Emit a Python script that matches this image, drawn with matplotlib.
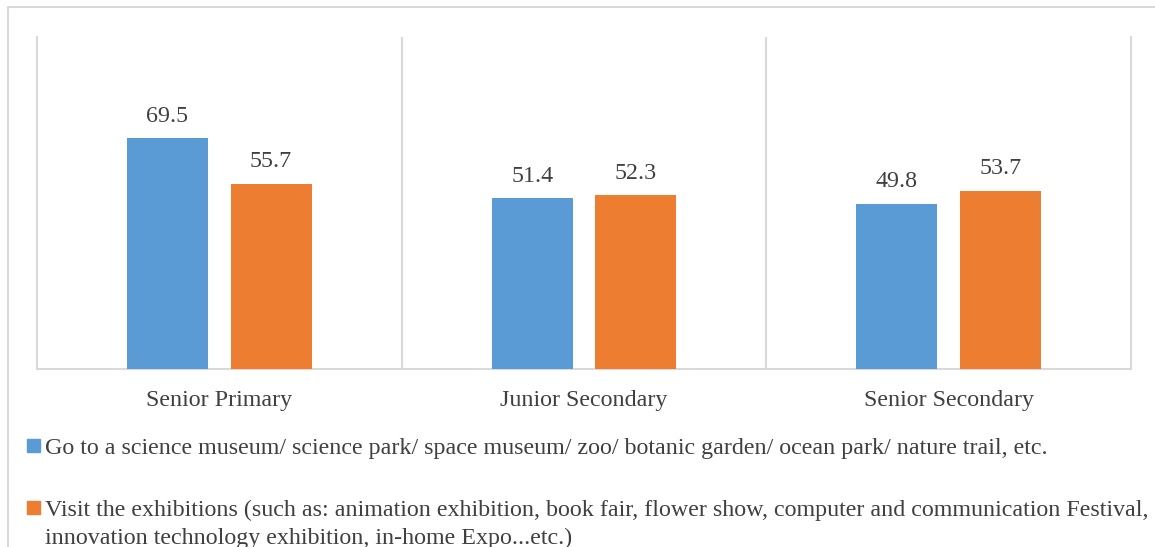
import numpy as np
import matplotlib.pyplot as plt
from matplotlib.patches import Rectangle
from matplotlib.lines import Line2D

# survey share (%) by school level
LEVELS = ['Senior Primary', 'Junior Secondary', 'Senior Secondary']
MUSEUM = [69.5, 51.4, 49.8]
EXHIBITION = [55.7, 52.3, 53.7]
LABELS = [
    'Go to a science museum/ science park/ space museum/ zoo/ botanic garden/ ocean park/ nature trail, etc.',
    'Visit the exhibitions (such as: animation exhibition, book fair, flower show, computer and communication Festival,\n'
    'innovation technology exhibition, in-home Expo...etc.)',
]
COLORS = ['#5B9BD5', '#ED7D31']

W, H = 1155, 547
plt.rcParams['font.family'] = ['Liberation Serif', 'DejaVu Serif']
TXT = '#404040'
GRID = '#D9D9D9'
FS = 17.3

fig = plt.figure(figsize=(W / 100, H / 100), dpi=100)
fig.patch.set_facecolor('white')

# outer chart frame: only top and left edges fall inside the canvas
fig.add_artist(Line2D([8 / W, 8 / W, 1.0], [0.0, 1 - 7 / H, 1 - 7 / H],
                      transform=fig.transFigure, color=GRID, linewidth=1.5))

ax = fig.add_axes([37 / W, 1 - 369 / H, (1131 - 37) / W, (369 - 37) / H])
xs = np.arange(len(LEVELS))
bw = 0.222
off = 0.142
for vals, dx, c in [(MUSEUM, -off, COLORS[0]), (EXHIBITION, off, COLORS[1])]:
    bars = ax.bar(xs + dx, vals, width=bw, color=c, zorder=3)
    for b, v in zip(bars, vals):
        ax.annotate(f'{v:.1f}', (b.get_x() + b.get_width() / 2, v), xytext=(0, 12),
                    textcoords='offset points', ha='center', va='baseline',
                    fontsize=FS, color=TXT)

ax.set_xlim(-0.5, len(LEVELS) - 0.5)
ax.set_ylim(0, 100)
ax.set_yticks([])
ax.set_xticks(xs)
ax.set_xticklabels(LEVELS, fontsize=FS, color=TXT)
ax.tick_params(axis='x', length=0, pad=15)
for x in xs[:-1] + 0.5:
    ax.axvline(x, color=GRID, linewidth=1.5, zorder=1)
ax.spines['top'].set_visible(False)
for s in ['left', 'right', 'bottom']:
    ax.spines[s].set_color(GRID)
    ax.spines[s].set_linewidth(1.5)

# legend, one row per series, square aligned with first text line
rows = [445, 507]
for lab, c, yc in zip(LABELS, COLORS, rows):
    fig.patches.append(Rectangle((27 / W, 1 - (yc + 6.5) / H), 13 / W, 13 / H,
                                 transform=fig.transFigure, color=c))
    fig.text(45 / W, 1 - (yc - 7) / H, lab, fontsize=FS, color=TXT, ha='left', va='top',
             linespacing=1.38)

fig.savefig('out.png', dpi=100)
